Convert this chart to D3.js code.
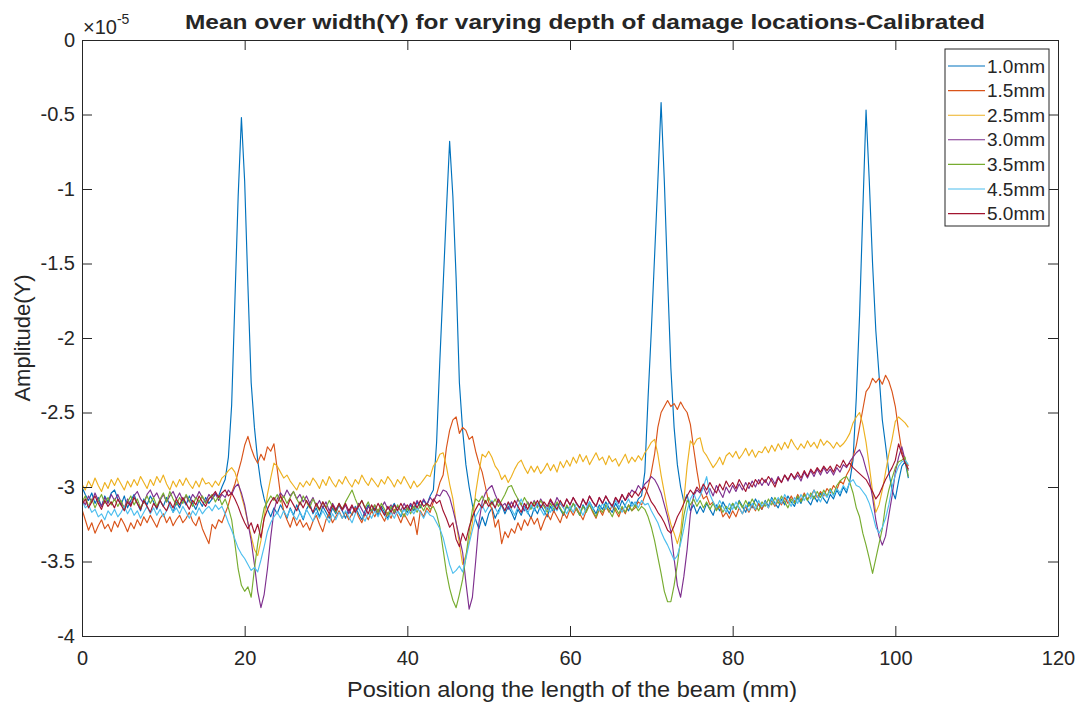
<!DOCTYPE html>
<html>
<head>
<meta charset="utf-8">
<script src="https://cdn.jsdelivr.net/npm/d3@7"></script>
<style>
  body { margin: 0; background: #ffffff; }
  svg text { font-family: "Liberation Sans", Arial, Helvetica, sans-serif; fill: #262626; }
</style>
</head>
<body>
<svg id="chart" width="1082" height="705"></svg>
<script>
// Mean amplitude over the beam width, sampled every 0.4 mm along the beam
const seriesNames = ["1.0mm", "1.5mm", "2.5mm", "3.0mm", "3.5mm", "4.5mm", "5.0mm"];
const seriesColors = ["#0072BD", "#D95319", "#EDB120", "#7E2F8E", "#77AC30", "#4DBEEE", "#A2142F"];
const xTicks = [0, 20, 40, 60, 80, 100, 120];
const yTicks = [-4, -3.5, -3, -2.5, -2, -1.5, -1, -0.5, 0];

// sample positions (mm): 0, 0.4, ..., 101.6
const positions = d3.range(255).map(i => +(i * 0.4).toFixed(1));

// amplitude values in units of 1e-5
const depth10 = [
  -3.00,-3.05,-3.09,-3.04,-3.11,-3.07,-3.13,-3.06,-3.10,-3.04,
  -3.02,-3.08,-3.12,-3.06,-3.14,-3.09,-3.05,-3.11,-3.16,-3.08,
  -3.12,-3.06,-3.10,-3.15,-3.09,-3.13,-3.07,-3.12,-3.17,-3.10,
  -3.14,-3.08,-3.12,-3.06,-3.11,-3.15,-3.09,-3.13,-3.07,-3.11,
  -3.08,-3.05,-3.06,-3.00,-2.95,-2.80,-2.45,-1.75,-1.05,-0.52,
  -0.95,-1.65,-2.30,-2.60,-2.82,-2.98,-3.08,-3.15,-3.20,-3.14,
  -3.18,-3.12,-3.16,-3.21,-3.14,-3.19,-3.12,-3.17,-3.22,-3.15,
  -3.11,-3.18,-3.14,-3.20,-3.13,-3.17,-3.21,-3.14,-3.18,-3.12,
  -3.16,-3.21,-3.15,-3.19,-3.13,-3.18,-3.22,-3.16,-3.12,-3.17,
  -3.14,-3.19,-3.13,-3.17,-3.21,-3.15,-3.11,-3.16,-3.20,-3.14,
  -3.17,-3.12,-3.16,-3.10,-3.14,-3.09,-3.12,-3.06,-3.02,-2.70,
  -2.15,-1.65,-1.15,-0.68,-1.05,-1.60,-2.30,-2.62,-2.85,-3.00,
  -3.12,-3.22,-3.28,-3.20,-3.26,-3.18,-3.14,-3.21,-3.16,-3.12,
  -3.18,-3.13,-3.17,-3.22,-3.15,-3.19,-3.13,-3.17,-3.21,-3.14,
  -3.18,-3.12,-3.16,-3.20,-3.13,-3.17,-3.11,-3.15,-3.19,-3.13,
  -3.16,-3.11,-3.15,-3.19,-3.12,-3.16,-3.10,-3.14,-3.18,-3.12,
  -3.15,-3.10,-3.14,-3.17,-3.11,-3.15,-3.09,-3.13,-3.16,-3.10,
  -3.13,-3.08,-3.06,-2.90,-2.40,-1.95,-1.45,-0.95,-0.42,-0.95,
  -1.60,-2.20,-2.60,-2.85,-3.00,-3.10,-3.05,-3.16,-3.12,-3.18,
  -3.13,-3.17,-3.11,-3.15,-3.19,-3.12,-3.16,-3.10,-3.14,-3.18,
  -3.11,-3.15,-3.09,-3.13,-3.17,-3.10,-3.14,-3.08,-3.12,-3.15,
  -3.09,-3.13,-3.07,-3.11,-3.14,-3.08,-3.12,-3.06,-3.10,-3.13,
  -3.07,-3.11,-3.05,-3.09,-3.12,-3.06,-3.10,-3.04,-3.08,-3.11,
  -3.05,-3.08,-3.02,-3.06,-3.00,-3.04,-2.96,-2.82,-2.40,-1.85,
  -1.15,-0.47,-0.95,-1.50,-1.95,-2.25,-2.55,-2.72,-2.90,-3.02,
  -3.08,-2.96,-2.86,-2.83,-2.94
];
const depth15 = [
  -3.15,-3.22,-3.29,-3.24,-3.31,-3.26,-3.22,-3.28,-3.25,-3.30,
  -3.23,-3.27,-3.21,-3.25,-3.30,-3.24,-3.28,-3.22,-3.26,-3.20,
  -3.24,-3.19,-3.23,-3.27,-3.21,-3.18,-3.24,-3.20,-3.26,-3.22,
  -3.19,-3.24,-3.21,-3.17,-3.23,-3.26,-3.20,-3.28,-3.33,-3.38,
  -3.25,-3.28,-3.22,-3.24,-3.18,-3.12,-3.04,-2.98,-2.90,-2.82,
  -2.72,-2.66,-2.74,-2.80,-2.84,-2.78,-2.82,-2.73,-2.76,-2.71,
  -2.88,-3.05,-3.16,-3.22,-3.27,-3.20,-3.26,-3.22,-3.27,-3.24,
  -3.29,-3.23,-3.19,-3.25,-3.30,-3.22,-3.18,-3.24,-3.20,-3.16,
  -3.21,-3.17,-3.22,-3.18,-3.14,-3.20,-3.24,-3.18,-3.22,-3.16,
  -3.20,-3.15,-3.19,-3.23,-3.17,-3.21,-3.15,-3.19,-3.24,-3.18,
  -3.22,-3.26,-3.20,-3.32,-3.16,-3.20,-3.14,-3.17,-3.10,-3.05,
  -2.97,-2.92,-2.74,-2.62,-2.55,-2.53,-2.64,-2.60,-2.62,-2.68,
  -2.66,-2.76,-2.84,-2.90,-3.00,-3.10,-3.15,-3.27,-3.22,-3.38,
  -3.30,-3.34,-3.28,-3.31,-3.24,-3.29,-3.22,-3.26,-3.20,-3.25,
  -3.21,-3.29,-3.23,-3.18,-3.22,-3.16,-3.20,-3.24,-3.17,-3.21,
  -3.15,-3.19,-3.14,-3.18,-3.22,-3.16,-3.12,-3.17,-3.21,-3.15,
  -3.19,-3.13,-3.17,-3.12,-3.16,-3.20,-3.14,-3.18,-3.12,-3.16,
  -3.14,-3.10,-3.12,-3.06,-3.00,-2.90,-2.78,-2.60,-2.50,-2.46,
  -2.42,-2.46,-2.44,-2.48,-2.43,-2.47,-2.50,-2.58,-2.74,-2.89,
  -3.02,-3.08,-3.06,-3.12,-3.10,-3.15,-3.13,-3.20,-3.17,-3.21,
  -3.16,-3.20,-3.14,-3.18,-3.13,-3.17,-3.12,-3.16,-3.11,-3.15,
  -3.10,-3.14,-3.09,-3.13,-3.08,-3.12,-3.07,-3.11,-3.06,-3.10,
  -3.05,-3.09,-3.04,-3.08,-3.06,-3.02,-3.07,-3.03,-3.06,-3.01,
  -3.04,-2.99,-3.02,-2.96,-2.98,-2.92,-2.88,-2.80,-2.72,-2.60,
  -2.48,-2.36,-2.33,-2.27,-2.30,-2.27,-2.31,-2.25,-2.29,-2.36,
  -2.46,-2.62,-2.76,-2.82,-2.86
];
const depth25 = [
  -2.98,-3.02,-2.96,-3.00,-2.94,-2.99,-3.03,-2.97,-3.01,-2.95,
  -2.99,-2.94,-2.98,-3.02,-2.96,-3.00,-2.95,-2.99,-2.93,-2.97,
  -3.01,-2.95,-2.99,-2.93,-2.97,-2.92,-2.98,-3.02,-2.96,-3.00,
  -2.95,-2.99,-2.94,-2.98,-3.01,-2.96,-3.00,-2.94,-2.98,-2.97,
  -3.00,-2.96,-2.99,-2.94,-2.92,-2.89,-2.87,-2.90,-2.97,-3.06,
  -3.14,-3.24,-3.33,-3.42,-3.46,-3.36,-3.20,-3.05,-2.94,-2.84,
  -2.86,-2.90,-2.94,-2.92,-2.96,-2.99,-3.02,-2.97,-3.00,-2.96,
  -2.99,-2.94,-2.97,-3.01,-2.95,-2.99,-2.93,-2.97,-3.00,-2.95,
  -2.98,-2.93,-2.97,-3.00,-2.95,-2.98,-2.92,-2.96,-2.99,-2.94,
  -2.97,-3.00,-2.95,-2.98,-2.93,-2.96,-3.00,-2.95,-2.98,-2.93,
  -2.97,-3.01,-2.96,-3.00,-2.98,-2.95,-2.92,-2.93,-2.86,-2.83,
  -2.78,-2.77,-2.86,-2.98,-3.08,-3.24,-3.38,-3.52,-3.46,-3.36,
  -3.24,-3.04,-2.90,-2.78,-2.80,-2.76,-2.80,-2.86,-2.89,-2.95,
  -2.92,-2.97,-2.93,-2.88,-2.84,-2.82,-2.87,-2.91,-2.86,-2.90,
  -2.86,-2.91,-2.88,-2.84,-2.89,-2.85,-2.90,-2.83,-2.87,-2.82,
  -2.86,-2.80,-2.84,-2.78,-2.83,-2.79,-2.85,-2.81,-2.77,-2.82,
  -2.80,-2.85,-2.79,-2.83,-2.81,-2.86,-2.82,-2.78,-2.84,-2.80,
  -2.83,-2.79,-2.82,-2.77,-2.74,-2.70,-2.68,-2.78,-2.92,-3.04,
  -3.16,-3.25,-3.31,-3.38,-3.30,-3.09,-2.86,-2.69,-2.72,-2.68,
  -2.67,-2.76,-2.79,-2.83,-2.87,-2.84,-2.80,-2.85,-2.79,-2.77,
  -2.80,-2.76,-2.81,-2.78,-2.74,-2.79,-2.75,-2.80,-2.76,-2.77,
  -2.73,-2.77,-2.72,-2.76,-2.71,-2.75,-2.70,-2.74,-2.68,-2.72,
  -2.75,-2.71,-2.74,-2.69,-2.73,-2.70,-2.74,-2.68,-2.72,-2.69,
  -2.71,-2.74,-2.70,-2.73,-2.71,-2.68,-2.64,-2.57,-2.53,-2.50,
  -2.58,-2.70,-2.86,-3.03,-3.17,-3.12,-3.02,-2.90,-2.78,-2.68,
  -2.56,-2.53,-2.55,-2.57,-2.60
];
const depth30 = [
  -3.08,-3.12,-3.06,-3.10,-3.04,-3.09,-3.13,-3.07,-3.11,-3.05,
  -3.09,-3.05,-3.10,-3.14,-3.08,-3.12,-3.06,-3.03,-3.08,-3.11,
  -3.05,-3.02,-3.07,-3.04,-3.09,-3.05,-3.10,-3.06,-3.03,-3.08,
  -3.04,-3.09,-3.06,-3.10,-3.05,-3.08,-3.03,-3.07,-3.10,-3.05,
  -3.08,-3.04,-3.09,-3.05,-3.07,-3.02,-3.05,-3.00,-2.98,-3.04,
  -3.12,-3.24,-3.36,-3.52,-3.70,-3.81,-3.72,-3.55,-3.34,-3.16,
  -3.08,-3.04,-3.07,-3.02,-3.06,-3.03,-3.08,-3.05,-3.10,-3.06,
  -3.11,-3.07,-3.13,-3.09,-3.14,-3.10,-3.16,-3.11,-3.15,-3.12,
  -3.16,-3.12,-3.18,-3.13,-3.17,-3.11,-3.15,-3.19,-3.13,-3.16,
  -3.12,-3.17,-3.14,-3.10,-3.15,-3.12,-3.18,-3.13,-3.16,-3.11,
  -3.15,-3.11,-3.14,-3.09,-3.13,-3.08,-3.12,-3.07,-3.10,-3.05,
  -3.06,-3.02,-3.03,-3.07,-3.15,-3.24,-3.34,-3.44,-3.64,-3.82,
  -3.74,-3.50,-3.24,-3.10,-3.04,-3.01,-2.99,-3.05,-3.10,-3.13,
  -3.11,-3.15,-3.10,-3.14,-3.08,-3.12,-3.16,-3.10,-3.14,-3.09,
  -3.13,-3.08,-3.12,-3.15,-3.09,-3.13,-3.07,-3.11,-3.14,-3.08,
  -3.12,-3.07,-3.11,-3.14,-3.08,-3.12,-3.06,-3.10,-3.13,-3.07,
  -3.11,-3.06,-3.10,-3.13,-3.07,-3.11,-3.05,-3.09,-3.06,-3.02,
  -3.04,-2.99,-3.02,-2.98,-2.96,-2.93,-2.95,-2.99,-3.04,-3.12,
  -3.20,-3.30,-3.48,-3.66,-3.74,-3.60,-3.42,-3.18,-3.06,-3.02,
  -3.04,-3.00,-3.05,-3.01,-3.06,-2.99,-3.03,-3.07,-3.00,-3.04,
  -2.99,-3.03,-2.98,-3.02,-2.97,-3.01,-2.96,-3.00,-2.95,-2.99,
  -2.95,-2.99,-2.94,-2.98,-2.93,-2.97,-2.92,-2.96,-2.91,-2.95,
  -2.92,-2.96,-2.90,-2.94,-2.89,-2.93,-2.88,-2.92,-2.87,-2.91,
  -2.88,-2.92,-2.87,-2.90,-2.85,-2.87,-2.83,-2.80,-2.77,-2.75,
  -2.80,-2.88,-2.95,-3.07,-3.22,-3.33,-3.39,-3.33,-3.19,-3.06,
  -2.90,-2.80,-2.73,-2.82,-2.89
];
const depth35 = [
  -3.10,-3.06,-3.13,-3.08,-3.14,-3.09,-3.05,-3.11,-3.07,-3.12,
  -3.08,-3.13,-3.09,-3.15,-3.10,-3.06,-3.12,-3.08,-3.14,-3.10,
  -3.06,-3.11,-3.07,-3.13,-3.08,-3.04,-3.10,-3.03,-3.08,-3.12,
  -3.07,-3.11,-3.05,-3.09,-3.13,-3.07,-3.10,-3.06,-3.11,-3.08,
  -3.05,-3.10,-3.06,-3.12,-3.08,-3.14,-3.22,-3.38,-3.55,-3.66,
  -3.70,-3.67,-3.74,-3.55,-3.38,-3.25,-3.14,-3.10,-3.06,-3.09,
  -3.05,-3.10,-3.06,-3.11,-3.07,-3.03,-3.08,-3.12,-3.06,-3.10,
  -3.14,-3.08,-3.12,-3.16,-3.10,-3.14,-3.09,-3.13,-3.17,-3.11,
  -3.15,-3.10,-3.06,-3.02,-3.08,-3.13,-3.09,-3.14,-3.10,-3.16,
  -3.12,-3.17,-3.11,-3.15,-3.19,-3.13,-3.17,-3.12,-3.16,-3.20,
  -3.14,-3.18,-3.13,-3.17,-3.12,-3.16,-3.11,-3.15,-3.13,-3.18,
  -3.27,-3.42,-3.57,-3.68,-3.76,-3.81,-3.72,-3.62,-3.47,-3.30,
  -3.15,-3.08,-3.10,-3.06,-3.11,-3.07,-3.12,-3.08,-3.13,-3.09,
  -3.05,-3.00,-2.99,-3.04,-3.08,-3.12,-3.07,-3.11,-3.15,-3.10,
  -3.14,-3.09,-3.13,-3.17,-3.11,-3.15,-3.10,-3.14,-3.18,-3.12,
  -3.16,-3.11,-3.15,-3.19,-3.13,-3.17,-3.12,-3.16,-3.20,-3.14,
  -3.17,-3.12,-3.16,-3.20,-3.14,-3.18,-3.13,-3.17,-3.12,-3.16,
  -3.12,-3.16,-3.13,-3.15,-3.20,-3.27,-3.36,-3.47,-3.58,-3.70,
  -3.77,-3.77,-3.66,-3.52,-3.35,-3.19,-3.09,-3.12,-3.08,-3.13,
  -3.09,-3.14,-3.10,-3.15,-3.11,-3.16,-3.12,-3.17,-3.13,-3.15,
  -3.11,-3.15,-3.10,-3.14,-3.09,-3.13,-3.08,-3.12,-3.16,-3.10,
  -3.13,-3.08,-3.12,-3.07,-3.11,-3.06,-3.10,-3.14,-3.08,-3.11,
  -3.06,-3.10,-3.05,-3.09,-3.04,-3.08,-3.03,-3.07,-3.02,-3.06,
  -3.01,-3.05,-2.99,-2.96,-2.94,-2.93,-2.97,-3.04,-3.14,-3.20,
  -3.31,-3.39,-3.48,-3.58,-3.48,-3.38,-3.28,-3.12,-3.02,-2.94,
  -2.87,-2.83,-2.82,-2.80,-2.93
];
const depth45 = [
  -3.09,-3.14,-3.12,-3.17,-3.15,-3.20,-3.18,-3.22,-3.16,-3.19,
  -3.15,-3.20,-3.17,-3.13,-3.18,-3.14,-3.19,-3.16,-3.21,-3.17,
  -3.13,-3.18,-3.14,-3.19,-3.15,-3.20,-3.16,-3.12,-3.17,-3.14,
  -3.18,-3.13,-3.17,-3.21,-3.16,-3.19,-3.14,-3.18,-3.15,-3.13,
  -3.16,-3.12,-3.15,-3.13,-3.18,-3.24,-3.29,-3.35,-3.41,-3.45,
  -3.48,-3.52,-3.56,-3.54,-3.57,-3.49,-3.40,-3.30,-3.24,-3.20,
  -3.17,-3.21,-3.16,-3.20,-3.15,-3.19,-3.22,-3.17,-3.21,-3.15,
  -3.19,-3.23,-3.17,-3.21,-3.16,-3.20,-3.24,-3.18,-3.22,-3.17,
  -3.21,-3.16,-3.20,-3.24,-3.18,-3.14,-3.19,-3.23,-3.17,-3.21,
  -3.16,-3.20,-3.15,-3.19,-3.22,-3.17,-3.21,-3.16,-3.19,-3.15,
  -3.19,-3.15,-3.18,-3.14,-3.17,-3.21,-3.16,-3.19,-3.20,-3.24,
  -3.28,-3.34,-3.43,-3.52,-3.58,-3.56,-3.53,-3.57,-3.48,-3.38,
  -3.29,-3.20,-3.16,-3.12,-3.17,-3.13,-3.09,-3.14,-3.18,-3.12,
  -3.16,-3.11,-3.15,-3.19,-3.13,-3.08,-3.14,-3.18,-3.12,-3.16,
  -3.11,-3.15,-3.19,-3.13,-3.17,-3.12,-3.16,-3.10,-3.14,-3.18,
  -3.13,-3.17,-3.11,-3.15,-3.19,-3.14,-3.10,-3.15,-3.12,-3.16,
  -3.11,-3.15,-3.10,-3.14,-3.09,-3.13,-3.17,-3.12,-3.08,-3.13,
  -3.10,-3.14,-3.09,-3.12,-3.11,-3.16,-3.20,-3.24,-3.30,-3.35,
  -3.39,-3.44,-3.49,-3.46,-3.38,-3.28,-3.16,-3.08,-3.04,-3.10,
  -3.06,-3.00,-2.93,-3.05,-3.10,-3.14,-3.09,-3.13,-3.17,-3.11,
  -3.15,-3.10,-3.14,-3.18,-3.12,-3.16,-3.11,-3.15,-3.09,-3.13,
  -3.10,-3.14,-3.08,-3.12,-3.07,-3.11,-3.05,-3.09,-3.13,-3.07,
  -3.11,-3.05,-3.09,-3.04,-3.08,-3.02,-3.06,-3.10,-3.04,-3.07,
  -3.02,-3.06,-3.01,-3.04,-2.99,-3.02,-2.97,-2.95,-2.99,-3.00,
  -3.03,-3.06,-3.11,-3.18,-3.27,-3.31,-3.27,-3.21,-3.12,-3.00,
  -2.92,-2.86,-2.83,-2.82,-2.85
];
const depth50 = [
  -3.12,-3.08,-3.14,-3.10,-3.06,-3.11,-3.15,-3.09,-3.13,-3.10,
  -3.14,-3.08,-3.12,-3.16,-3.10,-3.13,-3.07,-3.11,-3.15,-3.09,
  -3.13,-3.17,-3.11,-3.14,-3.09,-3.13,-3.16,-3.10,-3.14,-3.08,
  -3.12,-3.07,-3.11,-3.15,-3.09,-3.12,-3.06,-3.10,-3.13,-3.08,
  -3.06,-3.03,-3.07,-3.04,-3.02,-3.06,-3.04,-3.08,-3.13,-3.19,
  -3.24,-3.28,-3.24,-3.31,-3.25,-3.34,-3.21,-3.15,-3.10,-3.07,
  -3.11,-3.06,-3.10,-3.14,-3.08,-3.12,-3.16,-3.10,-3.14,-3.09,
  -3.13,-3.17,-3.11,-3.15,-3.10,-3.14,-3.18,-3.12,-3.16,-3.11,
  -3.15,-3.11,-3.16,-3.12,-3.17,-3.13,-3.09,-3.14,-3.18,-3.12,
  -3.16,-3.11,-3.15,-3.19,-3.13,-3.17,-3.12,-3.16,-3.11,-3.15,
  -3.12,-3.16,-3.10,-3.14,-3.09,-3.13,-3.11,-3.13,-3.08,-3.11,
  -3.09,-3.16,-3.21,-3.27,-3.24,-3.35,-3.40,-3.31,-3.36,-3.27,
  -3.20,-3.15,-3.11,-3.14,-3.09,-3.13,-3.10,-3.14,-3.08,-3.12,
  -3.16,-3.10,-3.14,-3.09,-3.13,-3.17,-3.11,-3.15,-3.10,-3.13,
  -3.09,-3.14,-3.10,-3.13,-3.08,-3.12,-3.15,-3.09,-3.13,-3.08,
  -3.12,-3.07,-3.11,-3.14,-3.08,-3.12,-3.06,-3.10,-3.13,-3.07,
  -3.11,-3.06,-3.10,-3.13,-3.07,-3.10,-3.05,-3.09,-3.04,-3.07,
  -3.03,-3.06,-3.02,-3.00,-3.05,-3.10,-3.13,-3.17,-3.20,-3.24,
  -3.29,-3.31,-3.26,-3.20,-3.16,-3.11,-3.06,-3.02,-3.05,-3.00,
  -3.03,-2.98,-3.02,-2.97,-3.01,-3.04,-2.98,-3.02,-2.96,-3.00,
  -2.97,-3.01,-2.95,-2.99,-3.03,-2.97,-3.00,-2.95,-2.98,-2.94,
  -2.97,-2.93,-2.96,-3.00,-2.94,-2.97,-2.92,-2.95,-2.91,-2.94,
  -2.90,-2.94,-2.89,-2.93,-2.88,-2.91,-2.87,-2.90,-2.86,-2.89,
  -2.86,-2.90,-2.85,-2.87,-2.82,-2.86,-2.84,-2.87,-2.89,-2.91,
  -2.93,-2.95,-2.99,-3.03,-3.08,-3.05,-3.00,-2.95,-2.91,-2.87,
  -2.82,-2.71,-2.78,-2.84,-2.88
];
const seriesValues = [depth10, depth15, depth25, depth30, depth35, depth45, depth50];

// plot frame
const W = 1082, H = 705;
const plot = { left: 82, right: 1058, top: 40, bottom: 636 };
const axisColor = "#262626";

const x = d3.scaleLinear().domain([0, 120]).range([plot.left, plot.right]);
const y = d3.scaleLinear().domain([-4, 0]).range([plot.bottom, plot.top]);

const svg = d3.select("#chart");
svg.append("rect").attr("width", W).attr("height", H).attr("fill", "#ffffff");

svg.append("defs").append("clipPath").attr("id", "plot-clip")
  .append("rect")
  .attr("x", plot.left).attr("y", plot.top)
  .attr("width", plot.right - plot.left).attr("height", plot.bottom - plot.top);

// data lines, drawn in legend order so the last series sits on top
const line = d3.line()
  .x((d, i) => x(positions[i]))
  .y(d => y(d));

const lines = svg.append("g").attr("clip-path", "url(#plot-clip)");
seriesValues.forEach((vals, k) => {
  lines.append("path")
    .attr("d", line(vals.slice(0, positions.length)))
    .attr("fill", "none")
    .attr("stroke", seriesColors[k])
    .attr("stroke-width", 1.15)
    .attr("stroke-linejoin", "round");
});

// axes with inward ticks on all four sides
const fmt = d => String(d);
function styleAxis(g) {
  g.selectAll("path, line").attr("stroke", axisColor).attr("stroke-width", 1);
  g.selectAll("text")
    .attr("font-family", "Liberation Sans, Arial, sans-serif")
    .attr("font-size", 20)
    .attr("fill", axisColor);
}

svg.append("g")
  .attr("transform", `translate(0,${plot.bottom})`)
  .call(d3.axisBottom(x).tickValues(xTicks).tickFormat(fmt).tickSizeInner(-10).tickSizeOuter(0).tickPadding(15))
  .call(styleAxis);

svg.append("g")
  .attr("transform", `translate(0,${plot.top})`)
  .call(d3.axisTop(x).tickValues(xTicks).tickFormat("").tickSizeInner(-10).tickSizeOuter(0))
  .call(styleAxis);

svg.append("g")
  .attr("transform", `translate(${plot.left},0)`)
  .call(d3.axisLeft(y).tickValues(yTicks).tickFormat(fmt).tickSizeInner(-10).tickSizeOuter(0).tickPadding(7))
  .call(styleAxis);

svg.append("g")
  .attr("transform", `translate(${plot.right},0)`)
  .call(d3.axisRight(y).tickValues(yTicks).tickFormat("").tickSizeInner(-10).tickSizeOuter(0))
  .call(styleAxis);

// exponent note above the y axis
const expo = svg.append("text")
  .attr("x", 83).attr("y", 34)
  .attr("font-size", 20)
  .attr("fill", axisColor);
expo.append("tspan").text("\u00d710");
expo.append("tspan").attr("font-size", 14).attr("dy", -10).text("-5");

// title and axis labels
svg.append("text")
  .attr("x", 185).attr("y", 29)
  .attr("font-size", 21).attr("font-weight", "bold")
  .attr("textLength", 800).attr("lengthAdjust", "spacingAndGlyphs")
  .attr("fill", "#000")
  .text("Mean over width(Y) for varying depth of damage locations-Calibrated");

svg.append("text")
  .attr("x", 347).attr("y", 697)
  .attr("font-size", 22)
  .attr("textLength", 450).attr("lengthAdjust", "spacingAndGlyphs")
  .attr("fill", axisColor)
  .text("Position along the length of the beam (mm)");

svg.append("text")
  .attr("transform", `translate(30,${(plot.top + plot.bottom) / 2}) rotate(-90)`)
  .attr("text-anchor", "middle")
  .attr("font-size", 22)
  .attr("fill", axisColor)
  .text("Amplitude(Y)");

// legend
const legend = svg.append("g");
legend.append("rect")
  .attr("x", 945).attr("y", 49).attr("width", 104).attr("height", 177)
  .attr("fill", "#ffffff").attr("stroke", axisColor).attr("stroke-width", 1);
seriesNames.forEach((name, k) => {
  const cy = 66 + k * 24.6;
  legend.append("line")
    .attr("x1", 948).attr("x2", 985).attr("y1", cy).attr("y2", cy)
    .attr("stroke", seriesColors[k]).attr("stroke-width", 1.1);
  legend.append("text")
    .attr("x", 987).attr("y", cy).attr("dy", "0.35em")
    .attr("font-size", 19).attr("fill", axisColor)
    .text(name);
});
</script>
</body>
</html>
